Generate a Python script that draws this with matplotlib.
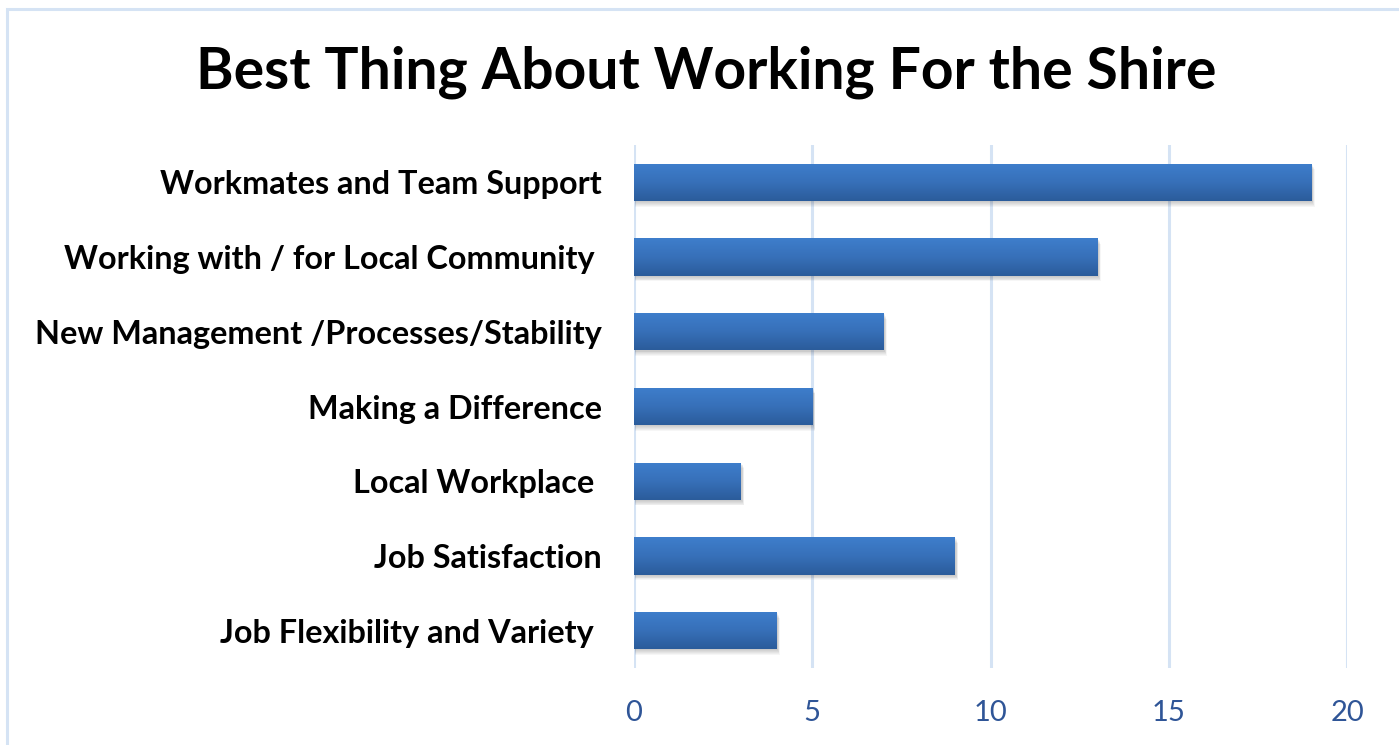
import numpy as np
import matplotlib.pyplot as plt
from matplotlib.patches import Rectangle
from matplotlib.colors import LinearSegmentedColormap

categories = [
    "Workmates and Team Support",
    "Working with / for Local Community ",
    "New Management /Processes/Stability",
    "Making a Difference",
    "Local Workplace ",
    "Job Satisfaction",
    "Job Flexibility and Variety ",
]
values = [19, 13, 7, 5, 3, 9, 4]
x_ticks = [0, 5, 10, 15, 20]

FONT = "Lato"
TICK_COLOR = "#2F5597"
GRID_COLOR = "#D5E3F4"

fig = plt.figure(figsize=(13.99, 7.45), dpi=100)
fig.patch.set_facecolor("white")

# outer chart frame
fig.patches.append(Rectangle((7 / 1399, -0.05), 1.2, 1 - 9 / 745 + 0.05,
                             transform=fig.transFigure, fill=False,
                             edgecolor=GRID_COLOR, linewidth=2.2, zorder=0))

ax = fig.add_axes([634 / 1399, 1 - 668 / 745, (1347 - 634) / 1399, (668 - 145) / 745])
n = len(categories)
ypos = np.arange(n)[::-1]
bar_h = 0.5

ax.set_xlim(0, 20)
ax.set_ylim(-0.5, n - 0.5)

for x in x_ticks:
    ax.axvline(x, color=GRID_COLOR, linewidth=2.2, zorder=1)

cmap = LinearSegmentedColormap.from_list("bar", ["#2B5C9B", "#3770B9", "#3E7ECC"])
grad = np.linspace(0, 1, 64).reshape(-1, 1)

for y, v in zip(ypos, values):
    # soft drop shadow
    for k in range(6):
        ax.add_patch(Rectangle((0.02, y - bar_h / 2 - 0.015 - k * 0.012), v + 0.02 + k * 0.01, bar_h,
                               facecolor="black", alpha=0.035, edgecolor="none", zorder=2))
    bar = ax.barh(y, v, height=bar_h, color="#3770B9", edgecolor="none", zorder=3)[0]
    im = ax.imshow(grad, cmap=cmap, aspect="auto", origin="lower",
                   extent=(0, v, y - bar_h / 2, y + bar_h / 2), zorder=4)
    im.set_clip_path(bar)

ax.set_xlim(0, 20)
ax.set_ylim(-0.5, n - 0.5)

ax.set_yticks(ypos)
ax.set_yticklabels(categories, fontfamily=FONT, fontweight="bold", fontsize=23.3, color="black")
ax.set_xticks(x_ticks)
ax.set_xticklabels([str(t) for t in x_ticks], fontfamily=FONT, fontsize=21, color=TICK_COLOR)
ax.tick_params(axis="y", length=0, pad=23)
ax.tick_params(axis="x", length=0, pad=23)
for s in ax.spines.values():
    s.set_visible(False)
ax.set_facecolor("none")

fig.text(706 / 1399, 1 - 72 / 745, "Best Thing About Working For the Shire",
         ha="center", va="center", fontfamily=FONT, fontweight="bold", fontsize=41, color="black")

fig.savefig("out.png", dpi=100)
